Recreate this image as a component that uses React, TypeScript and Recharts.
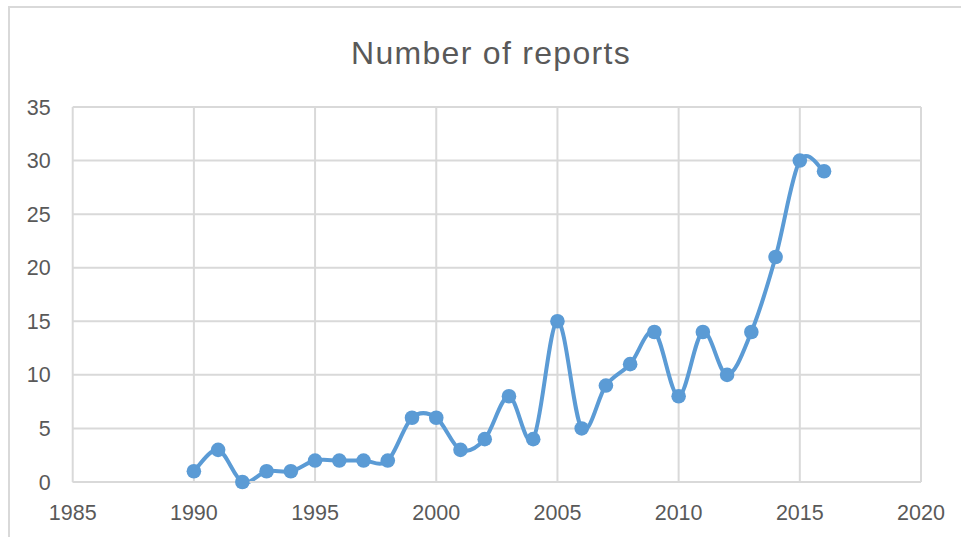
import React from 'react';
import { LineChart, Line, XAxis, YAxis, CartesianGrid } from 'recharts';

const years = [1990, 1991, 1992, 1993, 1994, 1995, 1996, 1997, 1998, 1999, 2000, 2001, 2002, 2003, 2004, 2005, 2006, 2007, 2008, 2009, 2010, 2011, 2012, 2013, 2014, 2015, 2016];
const reports = [1, 3, 0, 1, 1, 2, 2, 2, 2, 6, 6, 3, 4, 8, 4, 15, 5, 9, 11, 14, 8, 14, 10, 14, 21, 30, 29];
const xTicks = [1985, 1990, 1995, 2000, 2005, 2010, 2015, 2020];
const yTicks = [0, 5, 10, 15, 20, 25, 30, 35];
const title = 'Number of reports';

const data = years.map((y, i) => ({ year: y, value: reports[i] }));

// Excel-like smoothed curve (Catmull-Rom / cardinal with 1/6 factor)
function excelSmooth(context: any) {
  let pts: number[][] = [];
  return {
    areaStart() {},
    areaEnd() {},
    lineStart() {
      pts = [];
    },
    point(x: number, y: number) {
      pts.push([+x, +y]);
    },
    lineEnd() {
      const n = pts.length;
      if (!n) return;
      context.moveTo(pts[0][0], pts[0][1]);
      for (let i = 0; i < n - 1; i++) {
        const p0 = pts[i - 1] || pts[i];
        const p1 = pts[i];
        const p2 = pts[i + 1];
        const p3 = pts[i + 2] || pts[i + 1];
        context.bezierCurveTo(
          p1[0] + (p2[0] - p0[0]) / 6,
          p1[1] + (p2[1] - p0[1]) / 6,
          p2[0] - (p3[0] - p1[0]) / 6,
          p2[1] - (p3[1] - p1[1]) / 6,
          p2[0],
          p2[1]
        );
      }
    },
  };
}

const FONT = '"Liberation Sans", Arial, sans-serif';
const GRAY = '#595959';
const GRID = '#d9d9d9';
const BLUE = '#5b9bd5';

export default function App() {
  return (
    <div style={{ position: 'absolute', left: 0, top: 0, width: 961, height: 537, background: '#fff', overflow: 'hidden' }}>
      <div
        style={{
          position: 'absolute',
          left: 8,
          top: 6,
          width: 1000,
          height: 600,
          borderTop: `2px solid ${GRID}`,
          borderLeft: `2px solid ${GRID}`,
        }}
      />
      <div
        style={{
          position: 'absolute',
          left: 0,
          top: 33,
          width: 982,
          textAlign: 'center',
          fontFamily: FONT,
          fontSize: 32,
          letterSpacing: 1.3,
          color: GRAY,
          lineHeight: '40px',
        }}
      >
        {title}
      </div>
      <div style={{ position: 'absolute', left: 0, top: 0 }}>
        <LineChart width={961} height={537} data={data} margin={{ top: 107, right: 40, left: 0, bottom: 0 }}>
          <CartesianGrid stroke={GRID} strokeWidth={2} horizontal vertical />
          <XAxis
            dataKey="year"
            type="number"
            domain={[1985, 2020]}
            ticks={xTicks}
            height={55}
            axisLine={{ stroke: GRID, strokeWidth: 2 }}
            tickLine={false}
            tickSize={0}
            tickMargin={23}
            tick={{ fill: GRAY, fontSize: 21.5, fontFamily: FONT }}
            interval={0}
          />
          <YAxis
            type="number"
            domain={[0, 35]}
            ticks={yTicks}
            width={72.7}
            axisLine={false}
            tickLine={false}
            tickSize={0}
            tickMargin={22}
            tick={{ fill: GRAY, fontSize: 21.5, fontFamily: FONT }}
            interval={0}
          />
          <Line
            dataKey="value"
            type={excelSmooth as any}
            stroke={BLUE}
            strokeWidth={4}
            dot={{ r: 7.3, fill: BLUE, stroke: BLUE, strokeWidth: 0 }}
            isAnimationActive={false}
          />
        </LineChart>
      </div>
    </div>
  );
}
